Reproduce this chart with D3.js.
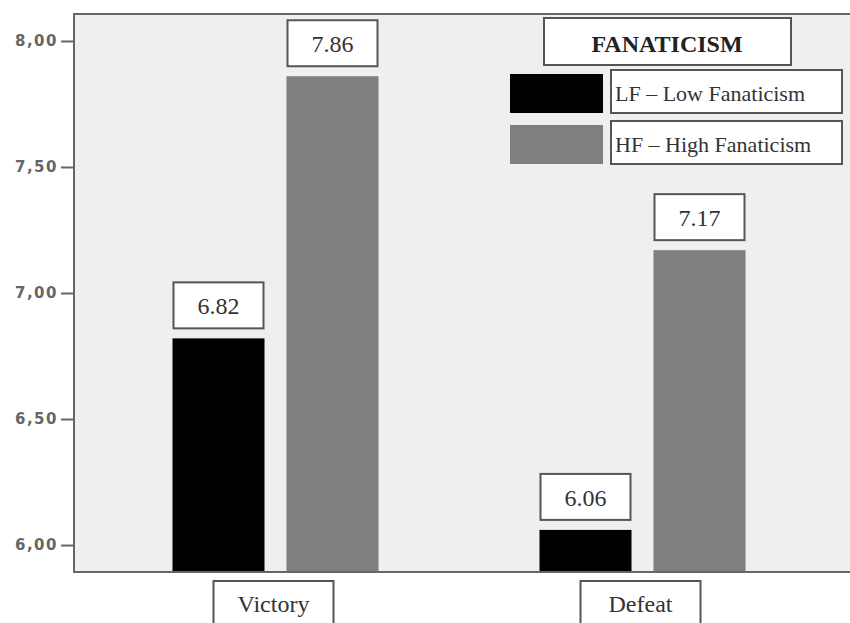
<!DOCTYPE html>
<html>
<head>
<meta charset="utf-8">
<script src="https://cdn.jsdelivr.net/npm/d3@7"></script>
<style>
  html, body { margin: 0; padding: 0; background: #fff; }
  svg { display: block; }
</style>
</head>
<body>
<svg id="chart" width="850" height="623"></svg>
<script>
// Mean scores by outcome and fanaticism level
const categories = ["Victory", "Defeat"];
const seriesKeys = ["LF", "HF"];
const seriesNames = ["LF \u2013 Low Fanaticism", "HF \u2013 High Fanaticism"];
const lfValues = [6.82, 6.06];
const hfValues = [7.86, 7.17];
const tickValues = [6.0, 6.5, 7.0, 7.5, 8.0];
const tickLabels = ["6,00", "6,50", "7,00", "7,50", "8,00"];
const legendTitle = "FANATICISM";

const colors = { LF: "#000000", HF: "#7f7f7f" };
const serif = "'Liberation Serif', 'Times New Roman', serif";
const boxStroke = "#555";

const svg = d3.select("#chart");

const plot = { left: 74, top: 14, bottom: 572, right: 862 };

const y = d3.scaleLinear().domain([5.893, 8.107]).range([plot.bottom, plot.top]);
const x0 = d3.scaleBand().domain(categories).range([92, 826]).padding(0);
const x1 = d3.scaleBand().domain(seriesKeys)
  .range([(x0.bandwidth() - 206) / 2, (x0.bandwidth() + 206) / 2])
  .paddingInner(0.193).paddingOuter(0);

// plot background and frame
svg.append("rect")
  .attr("x", plot.left).attr("y", plot.top)
  .attr("width", plot.right - plot.left).attr("height", plot.bottom - plot.top)
  .attr("fill", "#efefef").attr("stroke", "#666").attr("stroke-width", 2);

// y axis
const yAxis = d3.axisLeft(y)
  .tickValues(tickValues)
  .tickSize(13)
  .tickPadding(3)
  .tickFormat((d, i) => tickLabels[i]);
const ya = svg.append("g").attr("transform", `translate(${plot.left},0)`).call(yAxis);
ya.select(".domain").remove();
ya.selectAll(".tick line").attr("stroke", "#666").attr("stroke-width", 2);
ya.selectAll(".tick text")
  .attr("fill", "#666")
  .attr("font-family", "'DejaVu Sans', Verdana, sans-serif")
  .attr("font-weight", "bold")
  .attr("font-size", 15)
  .attr("letter-spacing", 1.5);

// data rows
const rows = categories.map((c, i) => ({
  category: c,
  values: [
    { key: "LF", value: lfValues[i] },
    { key: "HF", value: hfValues[i] }
  ]
}));

const groups = svg.append("g").selectAll("g")
  .data(rows).join("g")
  .attr("transform", d => `translate(${x0(d.category)},0)`);

// bars
groups.selectAll("rect.bar")
  .data(d => d.values).join("rect")
  .attr("class", "bar")
  .attr("x", d => x1(d.key))
  .attr("width", x1.bandwidth())
  .attr("y", d => y(d.value))
  .attr("height", d => plot.bottom - y(d.value))
  .attr("fill", d => colors[d.key]);

// value callouts above bars
const lbl = groups.selectAll("g.lbl")
  .data(d => d.values).join("g")
  .attr("class", "lbl")
  .attr("transform", d => `translate(${x1(d.key) + x1.bandwidth() / 2},${y(d.value) - 10})`);
lbl.append("rect")
  .attr("x", -45).attr("y", -46).attr("width", 90).attr("height", 46)
  .attr("fill", "#fff").attr("stroke", boxStroke).attr("stroke-width", 2);
lbl.append("text")
  .attr("x", 0).attr("y", -14)
  .attr("text-anchor", "middle")
  .attr("font-family", serif).attr("font-size", 24)
  .attr("fill", "#333")
  .text(d => d.value.toFixed(2));

// plot baseline redrawn over the bars
svg.append("line")
  .attr("x1", plot.left).attr("x2", plot.right)
  .attr("y1", plot.bottom).attr("y2", plot.bottom)
  .attr("stroke", "#666").attr("stroke-width", 2);

// category labels in boxes
const cat = svg.append("g").selectAll("g")
  .data(categories).join("g")
  .attr("transform", d => `translate(${x0(d) + x0.bandwidth() / 2 - 2},581)`);
cat.append("rect")
  .attr("x", -60).attr("y", 0).attr("width", 120).attr("height", 60)
  .attr("fill", "#fff").attr("stroke", boxStroke).attr("stroke-width", 2);
cat.append("text")
  .attr("x", 0).attr("y", 31)
  .attr("text-anchor", "middle")
  .attr("font-family", serif).attr("font-size", 24)
  .attr("fill", "#333")
  .text(d => d);

// legend
const legend = svg.append("g");
legend.append("rect")
  .attr("x", 544).attr("y", 18).attr("width", 247).attr("height", 47)
  .attr("fill", "#fff").attr("stroke", boxStroke).attr("stroke-width", 2);
legend.append("text")
  .attr("x", 667).attr("y", 52)
  .attr("text-anchor", "middle")
  .attr("font-family", serif).attr("font-size", 24).attr("font-weight", "bold")
  .attr("fill", "#222")
  .text(legendTitle);

const items = legend.selectAll("g.item")
  .data(seriesKeys).join("g")
  .attr("class", "item")
  .attr("transform", (d, i) => `translate(0,${i * 51})`);
items.append("rect")
  .attr("x", 510).attr("y", 74).attr("width", 93).attr("height", 39)
  .attr("fill", d => colors[d]);
items.append("rect")
  .attr("x", 611).attr("y", 70).attr("width", 231).attr("height", 43)
  .attr("fill", "#fff").attr("stroke", boxStroke).attr("stroke-width", 2);
items.append("text")
  .attr("x", 615).attr("y", 101)
  .attr("font-family", serif).attr("font-size", 22)
  .attr("fill", "#333")
  .text((d, i) => seriesNames[i]);
</script>
</body>
</html>
